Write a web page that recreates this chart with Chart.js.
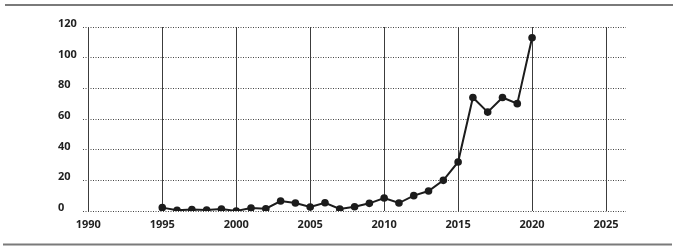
<!DOCTYPE html>
<html>
<head>
<meta charset="utf-8">
<script src="https://cdn.jsdelivr.net/npm/chart.js@4"></script>
<style>
  html, body { margin: 0; padding: 0; background: #fff; }
  #wrap { width: 678px; height: 251px; position: relative; }
</style>
</head>
<body>
<div id="wrap"><canvas id="c"></canvas></div>
<script>
const years = [1995, 1996, 1997, 1998, 1999, 2000, 2001, 2002, 2003, 2004, 2005, 2006, 2007,
               2008, 2009, 2010, 2011, 2012, 2013, 2014, 2015, 2016, 2017, 2018, 2019, 2020];
const values = [2.2, 0.5, 0.9, 0.7, 1.3, 0, 2, 1.5, 6.5, 5.2, 2.6, 5.4, 1.3,
                2.8, 5, 8.5, 5.2, 10, 13, 20, 32, 74, 64.5, 74, 70, 113];
const xTickLabels = [1990, 1995, 2000, 2005, 2010, 2015, 2020, 2025];
const yTickLabels = [0, 20, 40, 60, 80, 100, 120];

const rules = {
  id: 'rules',
  beforeDraw(chart) {
    const ctx = chart.ctx;
    ctx.save();
    ctx.strokeStyle = '#7a7a7a';
    ctx.lineWidth = 2;
    ctx.beginPath();
    ctx.moveTo(5, 5); ctx.lineTo(673, 5);
    ctx.moveTo(3, 244.5); ctx.lineTo(672, 244.5);
    ctx.stroke();
    ctx.restore();
  }
};

const font = { family: '"Open Sans", Lato, sans-serif', size: 11, weight: 'bold' };

new Chart(document.getElementById('c'), {
  type: 'line',
  data: {
    datasets: [{
      data: years.map((y, i) => ({ x: y, y: values[i] })),
      borderColor: '#1c1c1c',
      backgroundColor: '#1c1c1c',
      borderWidth: 2,
      pointRadius: 3.8,
      pointBorderWidth: 0,
      tension: 0
    }]
  },
  options: {
    responsive: true,
    maintainAspectRatio: false,
    animation: false,
    events: [],
    layout: { padding: { left: 58, right: 52, top: 27, bottom: 0 } },
    plugins: { legend: { display: false }, tooltip: { enabled: false } },
    scales: {
      x: {
        type: 'linear',
        min: 1989.62,
        max: 2026.35,
        afterBuildTicks: s => { s.ticks = xTickLabels.map(v => ({ value: v })); },
        afterFit: s => { s.height = 40; },
        border: { display: false },
        grid: { color: '#3c3c3c', lineWidth: 1, drawTicks: false },
        ticks: { padding: 7, color: '#222', font: font, callback: v => String(v) }
      },
      y: {
        min: 0,
        max: 120,
        afterBuildTicks: s => { s.ticks = yTickLabels.map(v => ({ value: v })); },
        afterFit: s => { s.width = 24.7; },
        border: { display: false, dash: [1, 1.5] },
        grid: { color: '#444', lineWidth: 1, drawTicks: false },
        ticks: { crossAlign: 'far', labelOffset: -3, padding: 0, color: '#222', font: font }
      }
    }
  },
  plugins: [rules]
});
</script>
</body>
</html>
